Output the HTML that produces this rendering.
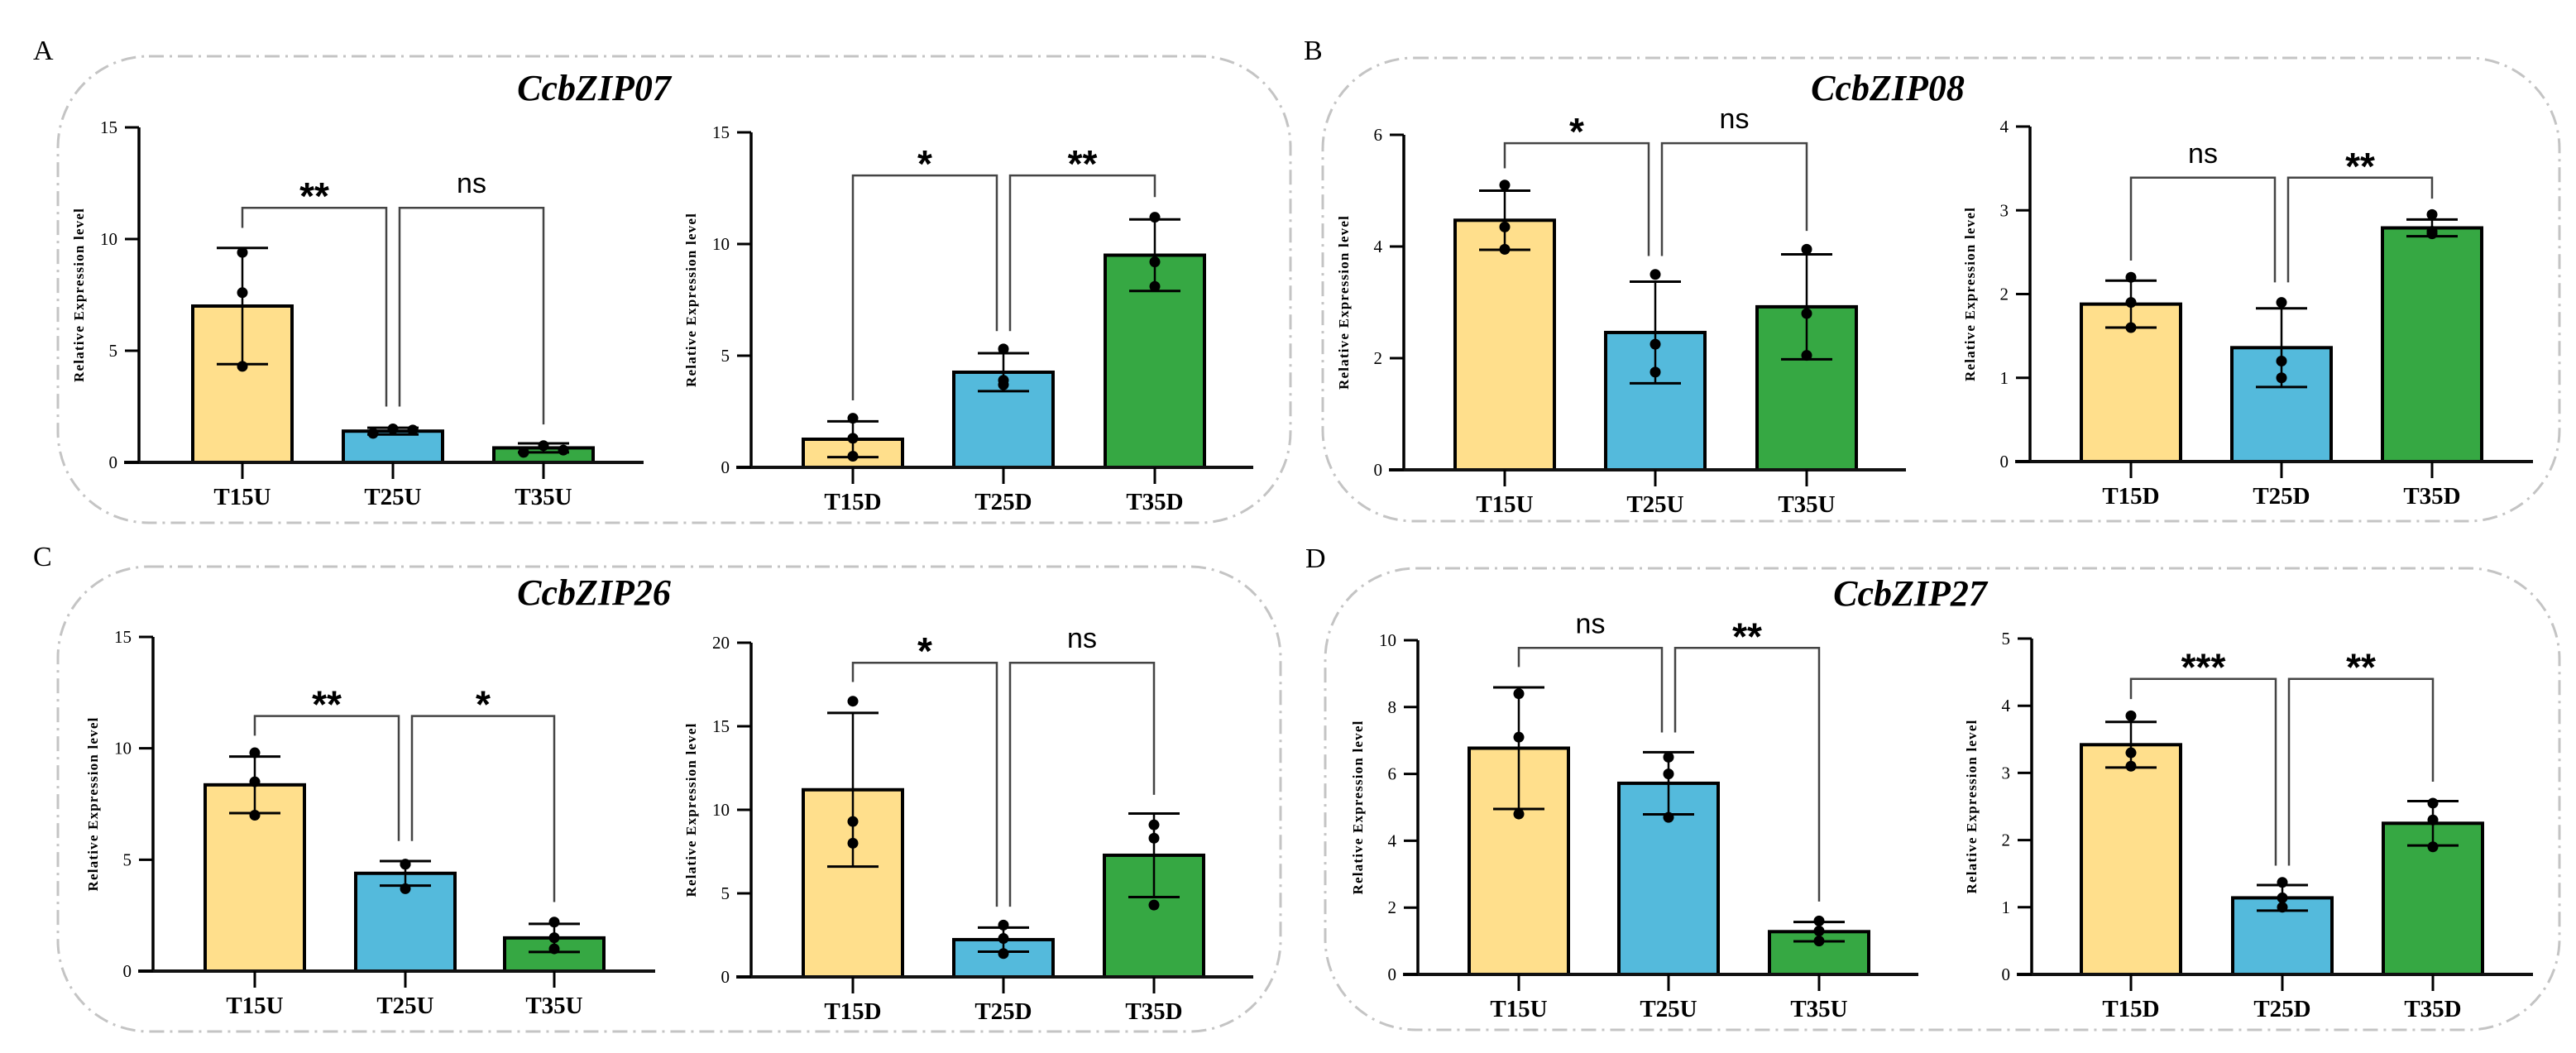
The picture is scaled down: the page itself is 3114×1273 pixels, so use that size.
<!DOCTYPE html>
<html><head><meta charset="utf-8"><style>
html,body{margin:0;padding:0;background:#fff;}
svg{display:block;}
</style></head><body>
<svg id="fig" xmlns="http://www.w3.org/2000/svg" width="3114" height="1273" viewBox="0 0 3114 1273">
<g>
<rect x="70" y="68" width="1490" height="564" rx="110" ry="110" fill="none" stroke="#c4c4c4" stroke-width="3" stroke-dasharray="18 7 3 7"/>
<text x="40" y="72" font-family="Liberation Serif, serif" font-size="34">A</text>
<text x="718" y="121" text-anchor="middle" font-family="Liberation Serif, serif" font-size="44" font-weight="bold" font-style="italic">CcbZIP07</text>
</g>
<g>
<rect x="1599" y="70" width="1495" height="560" rx="110" ry="110" fill="none" stroke="#c4c4c4" stroke-width="3" stroke-dasharray="18 7 3 7"/>
<text x="1576" y="72" font-family="Liberation Serif, serif" font-size="34">B</text>
<text x="2282" y="121" text-anchor="middle" font-family="Liberation Serif, serif" font-size="44" font-weight="bold" font-style="italic">CcbZIP08</text>
</g>
<g>
<rect x="70" y="685" width="1478" height="562" rx="110" ry="110" fill="none" stroke="#c4c4c4" stroke-width="3" stroke-dasharray="18 7 3 7"/>
<text x="40" y="684" font-family="Liberation Serif, serif" font-size="34">C</text>
<text x="718" y="731" text-anchor="middle" font-family="Liberation Serif, serif" font-size="44" font-weight="bold" font-style="italic">CcbZIP26</text>
</g>
<g>
<rect x="1602" y="687" width="1492" height="558" rx="110" ry="110" fill="none" stroke="#c4c4c4" stroke-width="3" stroke-dasharray="18 7 3 7"/>
<text x="1578" y="686" font-family="Liberation Serif, serif" font-size="34">D</text>
<text x="2309" y="732" text-anchor="middle" font-family="Liberation Serif, serif" font-size="44" font-weight="bold" font-style="italic">CcbZIP27</text>
</g>
</svg>
<script>
// ---- data ----
const catsU = ["T15U","T25U","T35U"];
const catsD = ["T15D","T25D","T35D"];
const colors = ["#FFDF8C","#54BADC","#36A843"];

const a1Mean = [7.0,1.4,0.65];     const a1Sd = [2.6,0.15,0.2];
const a1Pts = [[9.4,7.6,4.3],[1.3,1.5,1.45],[0.45,0.75,0.55]];
const a1Sig = ["**","ns"];         const a1Br = [[11.4,10.5,2.5],[11.4,2.5,1.7]];
const a1Ticks = [0,5,10,15];

const a2Mean = [1.26,4.26,9.5];    const a2Sd = [0.8,0.85,1.6];
const a2Pts = [[2.2,1.3,0.5],[5.3,3.7,3.9],[11.2,9.2,8.1]];
const a2Sig = ["*","**"];          const a2Br = [[13.07,3.0,6.1],[13.07,6.1,12.1]];
const a2Ticks = [0,5,10,15];

const b1Mean = [4.47,2.46,2.92];   const b1Sd = [0.53,0.91,0.94];
const b1Pts = [[5.1,4.35,3.95],[3.5,2.25,1.75],[3.95,2.8,2.05]];
const b1Sig = ["*","ns"];          const b1Br = [[5.85,5.4,3.83],[5.85,3.83,4.28]];
const b1Ticks = [0,2,4,6];

const b2Mean = [1.88,1.36,2.79];   const b2Sd = [0.28,0.47,0.1];
const b2Pts = [[2.2,1.9,1.6],[1.9,1.2,1.0],[2.95,2.75,2.72]];
const b2Sig = ["ns","**"];         const b2Br = [[3.39,2.4,2.14],[3.39,2.14,3.14]];
const b2Ticks = [0,1,2,3,4];

const c1Mean = [8.36,4.39,1.49];   const c1Sd = [1.27,0.55,0.63];
const c1Pts = [[9.8,8.5,7.0],[4.8,4.8,3.7],[2.2,1.5,1.0]];
const c1Sig = ["**","*"];          const c1Br = [[11.45,10.57,5.84],[11.45,5.84,3.1]];
const c1Ticks = [0,5,10,15];

const c2Mean = [11.2,2.23,7.28];   const c2Sd = [4.6,0.72,2.5];
const c2Pts = [[16.5,9.3,8.0],[3.1,2.3,1.4],[9.1,8.3,4.3]];
const c2Sig = ["*","ns"];          const c2Br = [[18.8,17.65,4.2],[18.8,4.2,10.9]];
const c2Ticks = [0,5,10,15,20];

const d1Mean = [6.77,5.72,1.28];   const d1Sd = [1.82,0.93,0.29];
const d1Pts = [[8.4,7.1,4.8],[6.5,6.0,4.7],[1.6,1.3,1.0]];
const d1Sig = ["ns","**"];         const d1Br = [[9.77,9.2,7.24],[9.77,7.24,2.18]];
const d1Ticks = [0,2,4,6,8,10];

const d2Mean = [3.42,1.14,2.25];   const d2Sd = [0.34,0.19,0.33];
const d2Pts = [[3.85,3.3,3.1],[1.37,1.14,1.0],[2.55,2.3,1.9]];
const d2Sig = ["***","**"];        const d2Br = [[4.4,4.1,1.62],[4.4,1.62,2.87]];
const d2Ticks = [0,1,2,3,4,5];

const NS = "http://www.w3.org/2000/svg";
const svg = document.getElementById("fig");
function mk(tag, attrs, parent){
  const e = document.createElementNS(NS, tag);
  for (const k in attrs) e.setAttribute(k, attrs[k]);
  parent.appendChild(e);
  return e;
}

function chart(id, geo, cats, mean, sd, pts, sig, br, ticks){
  const g = mk("g", {}, svg);
  
  
  const max = ticks[ticks.length-1];
  const y = v => geo.bottom - (v/max)*(geo.bottom-geo.top);
  const xs = geo.centers;
  const bw = 120;
  const yt = mk("text", {x:geo.axis-71, y:(geo.top+geo.bottom)/2, "text-anchor":"middle",
    transform:`rotate(-90 ${geo.axis-71} ${(geo.top+geo.bottom)/2})`, "dominant-baseline":"middle",
    "font-family":"Liberation Serif, serif","font-size":"17","font-weight":"bold","letter-spacing":"1.2"}, g);
  yt.textContent = "Relative Expression level";
  
  
  for (let i=0;i<3;i++){
    const r = mk("rect", {x:xs[i]-bw/2, y:y(mean[i]), width:bw, height:geo.bottom-y(mean[i]),
      fill:colors[i], stroke:"#000", "stroke-width":"4"}, g);
    
    
  }
  const ax = mk("line", {x1:geo.axis, y1:geo.top, x2:geo.axis, y2:geo.bottom, stroke:"#000","stroke-width":"3.5"}, g);
  
  
  const bl = mk("line", {x1:geo.axis-18, y1:geo.bottom, x2:geo.end, y2:geo.bottom, stroke:"#111","stroke-width":"4"}, g);
  
  
  ticks.forEach(t=>{
    mk("line", {x1:geo.axis-17, y1:y(t), x2:geo.axis, y2:y(t), stroke:"#000","stroke-width":"3"}, g);
    const tl = mk("text", {x:geo.axis-26, y:y(t)+7, "text-anchor":"end","font-family":"Liberation Serif, serif","font-size":"21"}, g);
    tl.textContent = String(t);
    
    
  });
  for (let i=0;i<3;i++){
    mk("line", {x1:xs[i], y1:geo.bottom, x2:xs[i], y2:geo.bottom+20, stroke:"#000","stroke-width":"3"}, g);
    const xl = mk("text", {x:xs[i], y:geo.bottom+51, "text-anchor":"middle","font-family":"Liberation Serif, serif","font-size":"29","font-weight":"bold"}, g);
    xl.textContent = cats[i];
    
    
  }
  for (let i=0;i<3;i++){
    const eg = mk("g", {}, g);
    
    
    const hi = y(mean[i]+sd[i]), lo = y(mean[i]-sd[i]);
    mk("line", {x1:xs[i], y1:hi, x2:xs[i], y2:lo, stroke:"#000","stroke-width":"2.5"}, eg);
    mk("line", {x1:xs[i]-31, y1:hi, x2:xs[i]+31, y2:hi, stroke:"#000","stroke-width":"3"}, eg);
    mk("line", {x1:xs[i]-31, y1:lo, x2:xs[i]+31, y2:lo, stroke:"#000","stroke-width":"3"}, eg);
    pts[i].forEach((p,j)=>{
      const dx = (pts[i].length>1 && Math.abs(pts[i][0]-pts[i][2])<0.6*(max/15)) ? (j-1)*24 : 0;
      const c = mk("circle", {cx:xs[i]+dx, cy:y(p), r:"6.5", fill:"#000"}, eg);
      
      
    });
  }
  const legX = [[xs[0], xs[1]-8],[xs[1]+8, xs[2]]];
  for (let k=0;k<2;k++){
    const bg = mk("g", {}, g);
    
    
    const by = y(br[k][0]);
    mk("polyline", {points:`${legX[k][0]},${y(br[k][1])} ${legX[k][0]},${by} ${legX[k][1]},${by} ${legX[k][1]},${y(br[k][2])}`,
      fill:"none", stroke:"#444","stroke-width":"2.5"}, bg);
    const isNs = sig[k]==="ns";
    const st = mk("text", {x:(legX[k][0]+legX[k][1])/2, y: isNs ? by-18 : by+2, "text-anchor":"middle",
      "font-family":"Liberation Sans, sans-serif","font-size": isNs ? "34" : "46","font-weight": isNs ? "normal":"bold"}, bg);
    st.textContent = sig[k];
    
    
  }
}

chart("chart-ccbzip07-u",{axis:168,top:154,bottom:559,centers:[293,475,657],end:778},catsU,a1Mean,a1Sd,a1Pts,a1Sig,a1Br,a1Ticks);
chart("chart-ccbzip07-d",{axis:908,top:160,bottom:565,centers:[1031,1213,1396],end:1515},catsD,a2Mean,a2Sd,a2Pts,a2Sig,a2Br,a2Ticks);
chart("chart-ccbzip08-u",{axis:1697,top:163,bottom:568,centers:[1819,2001,2184],end:2304},catsU,b1Mean,b1Sd,b1Pts,b1Sig,b1Br,b1Ticks);
chart("chart-ccbzip08-d",{axis:2454,top:153,bottom:558,centers:[2576,2758,2940],end:3062},catsD,b2Mean,b2Sd,b2Pts,b2Sig,b2Br,b2Ticks);
chart("chart-ccbzip26-u",{axis:185,top:770,bottom:1174,centers:[308,490,670],end:792},catsU,c1Mean,c1Sd,c1Pts,c1Sig,c1Br,c1Ticks);
chart("chart-ccbzip26-d",{axis:908,top:777,bottom:1181,centers:[1031,1213,1395],end:1515},catsD,c2Mean,c2Sd,c2Pts,c2Sig,c2Br,c2Ticks);
chart("chart-ccbzip27-u",{axis:1714,top:774,bottom:1178,centers:[1836,2017,2199],end:2319},catsU,d1Mean,d1Sd,d1Pts,d1Sig,d1Br,d1Ticks);
chart("chart-ccbzip27-d",{axis:2456,top:772,bottom:1178,centers:[2576,2759,2941],end:3062},catsD,d2Mean,d2Sd,d2Pts,d2Sig,d2Br,d2Ticks);
</script>
</body></html>
